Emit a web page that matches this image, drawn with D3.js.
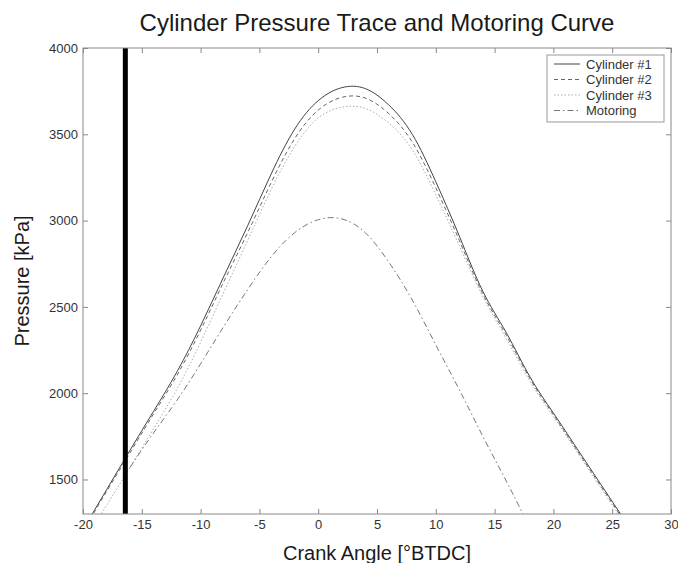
<!DOCTYPE html>
<html>
<head>
<meta charset="utf-8">
<script src="https://cdn.jsdelivr.net/npm/d3@7"></script>
<style>
  body { margin: 0; background: #fff; }
  svg { display: block; font-family: Arial, "Liberation Sans", sans-serif; }
  .tick text { fill: #333; font-size: 13px; }
</style>
</head>
<body>
<div id="chart"></div>
<script>
const crankAngle = [-20, -18, -16, -14, -12, -10, -8, -6, -4, -2, 0, 2, 4, 6, 8, 10, 12, 14, 16, 18, 20, 22, 24, 26, 28];
const cylinder1 = [1210, 1440, 1670, 1895, 2125, 2390, 2680, 2970, 3270, 3530, 3695, 3770, 3765, 3670, 3500, 3225, 2910, 2590, 2350, 2095, 1885, 1680, 1475, 1270, 1065];
const cylinder2 = [1200, 1430, 1655, 1880, 2105, 2365, 2650, 2930, 3220, 3475, 3640, 3714, 3710, 3620, 3455, 3190, 2885, 2575, 2335, 2085, 1875, 1670, 1465, 1260, 1055];
const cylinder3 = [1130, 1350, 1570, 1795, 2025, 2295, 2590, 2885, 3180, 3430, 3595, 3657, 3650, 3565, 3410, 3150, 2855, 2560, 2315, 2070, 1865, 1660, 1455, 1250, 1045];
const motoring = [null, null, 1570, 1770, 1960, 2170, 2390, 2600, 2790, 2930, 3005, 3010, 2930, 2760, 2540, 2280, 2020, 1750, 1490, 1220, 950, null, null, null, null];
const markerAngle = -16.4;

const seriesNames = ['Cylinder #1', 'Cylinder #2', 'Cylinder #3', 'Motoring'];
const xTicks = [-20, -15, -10, -5, 0, 5, 10, 15, 20, 25, 30];
const yTicks = [1500, 2000, 2500, 3000, 3500, 4000];

const styles = [
  { color: '#444', dash: null },
  { color: '#666', dash: '4,3' },
  { color: '#aaa', dash: '1.5,2' },
  { color: '#777', dash: '6,3,1.5,3' }
];

const width = 678, height = 563;
const margin = { top: 48, right: 7, bottom: 49, left: 83 };
const innerW = width - margin.left - margin.right;
const innerH = height - margin.top - margin.bottom;

const svg = d3.select('#chart').append('svg')
  .attr('width', width)
  .attr('height', height);

const x = d3.scaleLinear().domain([-20, 30]).range([0, innerW]);
const y = d3.scaleLinear().domain([1300, 4000]).range([innerH, 0]);

const g = svg.append('g').attr('transform', `translate(${margin.left},${margin.top})`);

g.append('clipPath').attr('id', 'clip')
  .append('rect').attr('width', innerW).attr('height', innerH);

// curves
const series = [cylinder1, cylinder2, cylinder3, motoring];
const line = d3.line()
  .defined(d => d[1] != null)
  .x(d => x(d[0]))
  .y(d => y(d[1]))
  .curve(d3.curveNatural);

series.forEach((vals, i) => {
  g.append('path')
    .datum(crankAngle.map((a, j) => [a, vals[j]]))
    .attr('clip-path', 'url(#clip)')
    .attr('fill', 'none')
    .attr('stroke', styles[i].color)
    .attr('stroke-width', 1)
    .attr('stroke-dasharray', styles[i].dash)
    .attr('d', line);
});

// thick marker line
g.append('line')
  .attr('x1', x(markerAngle)).attr('x2', x(markerAngle))
  .attr('y1', 0).attr('y2', innerH)
  .attr('stroke', '#000')
  .attr('stroke-width', 5);

// axes, MATLAB style with inward ticks on all sides
function styleAxis(sel) {
  sel.select('.domain').remove();
  sel.selectAll('.tick line').attr('stroke', '#888');
}
const plain = d => String(d);
g.append('g').attr('transform', `translate(0,${innerH})`)
  .call(d3.axisBottom(x).tickValues(xTicks).tickSize(-5).tickPadding(6).tickFormat(plain))
  .call(styleAxis);
g.append('g')
  .call(d3.axisTop(x).tickValues(xTicks).tickSize(-5).tickFormat(''))
  .call(styleAxis);
g.append('g')
  .call(d3.axisLeft(y).tickValues(yTicks).tickSize(-5).tickPadding(5).tickFormat(plain))
  .call(styleAxis);
g.append('g').attr('transform', `translate(${innerW},0)`)
  .call(d3.axisRight(y).tickValues(yTicks).tickSize(-5).tickFormat(''))
  .call(styleAxis);

g.append('rect')
  .attr('width', innerW).attr('height', innerH)
  .attr('fill', 'none')
  .attr('stroke', '#888');

// legend
const legend = g.append('g').attr('transform', `translate(${547 - margin.left},${55 - margin.top})`);
legend.append('rect')
  .attr('width', 117).attr('height', 67)
  .attr('fill', '#fff')
  .attr('stroke', '#999');
seriesNames.forEach((name, i) => {
  const row = legend.append('g').attr('transform', `translate(0,${9 + i * 15.5})`);
  row.append('line')
    .attr('x1', 7).attr('x2', 33)
    .attr('stroke', styles[i].color)
    .attr('stroke-dasharray', styles[i].dash);
  row.append('text')
    .attr('x', 39).attr('dy', '0.35em')
    .attr('font-size', 13)
    .attr('fill', '#333')
    .text(name);
});

// titles
svg.append('text')
  .attr('x', margin.left + innerW / 2).attr('y', 31)
  .attr('text-anchor', 'middle')
  .attr('font-size', 24)
  .attr('fill', '#1a1a1a')
  .text('Cylinder Pressure Trace and Motoring Curve');

svg.append('text')
  .attr('x', margin.left + innerW / 2).attr('y', 560)
  .attr('text-anchor', 'middle')
  .attr('font-size', 20)
  .attr('fill', '#1a1a1a')
  .text('Crank Angle [°BTDC]');

svg.append('text')
  .attr('transform', `translate(29,${margin.top + innerH / 2}) rotate(-90)`)
  .attr('text-anchor', 'middle')
  .attr('font-size', 20)
  .attr('fill', '#1a1a1a')
  .text('Pressure [kPa]');
</script>
</body>
</html>
